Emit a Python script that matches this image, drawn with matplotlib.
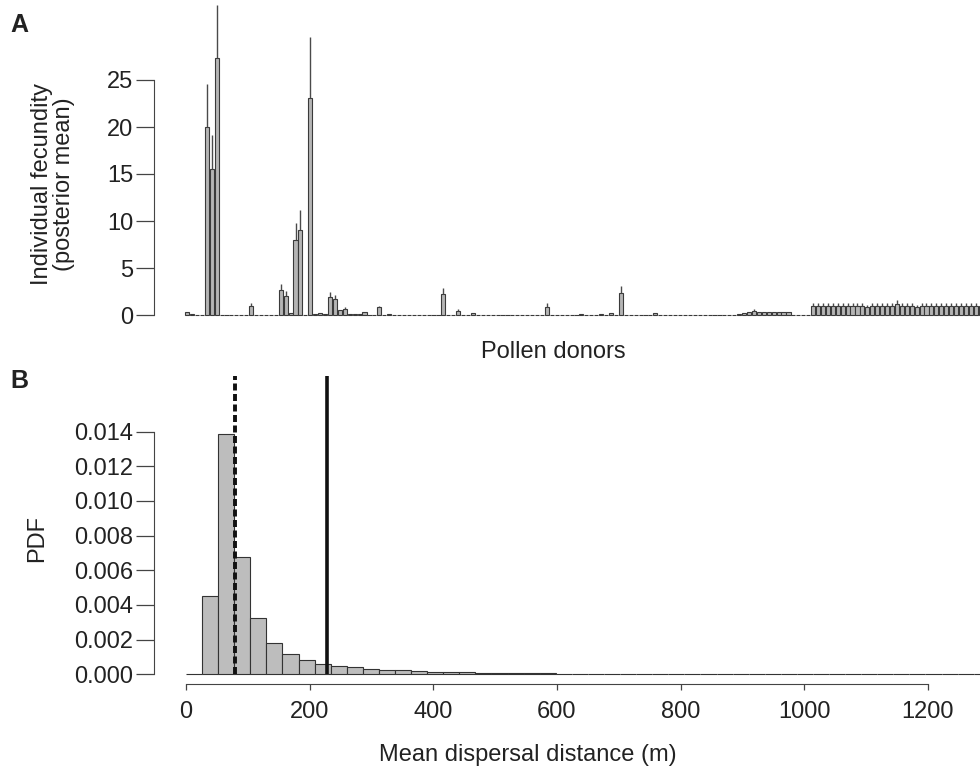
import numpy as np
import matplotlib
matplotlib.use("Agg")
import matplotlib.pyplot as plt

plt.rcParams['font.family'] = ['Liberation Sans', 'DejaVu Sans']

# Panel A: posterior mean fecundity per pollen donor (upper credible limit)
fecundity = [
    0.30, 0.15, 0.05, 0.05, 20.0, 15.5, 27.3, 0.05, 0.05, 0.05,
    0.05, 0.05, 0.05, 0.95, 0.05, 0.05, 0.05, 0.05, 0.05, 2.65,
    2.05, 0.20, 8.00, 9.05, 0.05, 23.05, 0.10, 0.25, 0.15, 1.90,
    1.70, 0.55, 0.65, 0.15, 0.10, 0.10, 0.35, 0.05, 0.05, 0.80,
    0.05, 0.10, 0.05, 0.05, 0.05, 0.05, 0.05, 0.05, 0.05, 0.05,
    0.05, 0.05, 2.25, 0.05, 0.05, 0.45, 0.05, 0.05, 0.18, 0.05,
    0.05, 0.05, 0.05, 0.05, 0.05, 0.05, 0.05, 0.05, 0.05, 0.05,
    0.05, 0.05, 0.05, 0.90, 0.05, 0.05, 0.05, 0.05, 0.05, 0.05,
    0.08, 0.05, 0.05, 0.05, 0.08, 0.05, 0.25, 0.05, 2.30, 0.05,
    0.05, 0.05, 0.05, 0.05, 0.05, 0.18, 0.05, 0.05, 0.05, 0.05,
    0.05, 0.05, 0.05, 0.05, 0.05, 0.05, 0.05, 0.05, 0.05, 0.05,
    0.05, 0.05, 0.10, 0.20, 0.30, 0.45, 0.30, 0.30, 0.30, 0.30,
    0.30, 0.30, 0.30, 0.05, 0.05, 0.05, 0.05, 1.00, 0.98, 1.00,
    1.00, 0.97, 1.00, 1.00, 0.98, 1.00, 1.00, 0.97, 0.80, 1.00,
    1.00, 0.98, 1.00, 1.00, 1.15, 1.00, 0.97, 1.00, 0.80, 1.00,
    1.00, 0.98, 1.00, 1.00, 0.97, 1.00, 1.00, 0.98, 1.00, 1.00,
    0.98, 1.00,
]
upper = [
    0.30, 0.15, 0.05, 0.05, 24.6, 19.1, 33.0, 0.05, 0.05, 0.05,
    0.05, 0.05, 0.05, 1.25, 0.05, 0.05, 0.05, 0.05, 0.05, 3.30,
    2.60, 0.20, 9.75, 11.2, 0.05, 29.6, 0.10, 0.25, 0.15, 2.50,
    2.15, 0.55, 0.90, 0.15, 0.10, 0.10, 0.35, 0.05, 0.05, 0.95,
    0.05, 0.10, 0.05, 0.05, 0.05, 0.05, 0.05, 0.05, 0.05, 0.05,
    0.05, 0.05, 2.85, 0.05, 0.05, 0.60, 0.05, 0.05, 0.18, 0.05,
    0.05, 0.05, 0.05, 0.05, 0.05, 0.05, 0.05, 0.05, 0.05, 0.05,
    0.05, 0.05, 0.05, 1.25, 0.05, 0.05, 0.05, 0.05, 0.05, 0.05,
    0.08, 0.05, 0.05, 0.05, 0.08, 0.05, 0.25, 0.05, 3.10, 0.05,
    0.05, 0.05, 0.05, 0.05, 0.05, 0.18, 0.05, 0.05, 0.05, 0.05,
    0.05, 0.05, 0.05, 0.05, 0.05, 0.05, 0.05, 0.05, 0.05, 0.05,
    0.05, 0.05, 0.10, 0.20, 0.30, 0.65, 0.30, 0.30, 0.30, 0.30,
    0.30, 0.30, 0.30, 0.05, 0.05, 0.05, 0.05, 1.30, 1.28, 1.30,
    1.30, 1.27, 1.30, 1.30, 1.28, 1.30, 1.30, 1.27, 1.10, 1.30,
    1.30, 1.28, 1.30, 1.30, 1.60, 1.30, 1.27, 1.30, 1.10, 1.30,
    1.30, 1.28, 1.30, 1.30, 1.27, 1.30, 1.30, 1.28, 1.30, 1.30,
    1.28, 1.30,
]
fec_ticks = [0, 5, 10, 15, 20, 25]

# Panel B: histogram of mean dispersal distance (bins of 26 m from 0)
bin_width = 26
pdf = [
    0.0, 0.00453, 0.01386, 0.00675, 0.00322, 0.00183, 0.00116, 0.00081,
    0.00062, 0.00048, 0.00040, 0.00033, 0.00027, 0.00022, 0.00019, 0.00016,
    0.00013, 0.00011, 0.00009, 0.00008, 0.00007, 0.00006, 0.00005, 0.00004,
    0.00004, 0.00003, 0.00003, 0.00002, 0.00002, 0.00002, 0.00002, 0.00001,
    0.00001, 0.00001, 0.00001, 0.00001, 0.00001, 0.00001, 0.00001, 0.0,
    0.0, 0.0, 0.0, 0.0, 0.0, 0.0, 0.0, 0.0, 0.0, 0.0, 0.0,
]
dist_median = 80
dist_mean = 228
pdf_ticks = [0.000, 0.002, 0.004, 0.006, 0.008, 0.010, 0.012, 0.014]
dist_ticks = [0, 200, 400, 600, 800, 1000, 1200]

W, H = 980, 769
fig = plt.figure(figsize=(W / 100, H / 100), dpi=100)
txt = '#222222'

def px_axes(x0, y0, x1, y1):
    return fig.add_axes([x0 / W, 1 - y1 / H, (x1 - x0) / W, (y1 - y0) / H])

# ---- Panel A
axA = px_axes(154, 0, 980, 330)
n = len(fecundity)
xpos = 0.7 + 1.2 * np.arange(n)
axA.bar(xpos, fecundity, width=1.0, color='#b5b5b5', edgecolor='#3a3a3a', linewidth=0.8)
mean_arr = np.array(fecundity)
up_arr = np.array(upper)
has_err = up_arr > mean_arr
axA.vlines(xpos[has_err], mean_arr[has_err], up_arr[has_err], color='#4a4a4a', linewidth=1.0)
axA.set_xlim(0.2 - 31 / 4.108, 0.2 + (980 - 185) / 4.108)
axA.set_ylim((315 - 330) / 9.4, 315 / 9.4)
axA.set_yticks(fec_ticks)
axA.set_xticks([])
for s in ['top', 'right', 'bottom']:
    axA.spines[s].set_visible(False)
axA.spines['left'].set_bounds(0, 25)
axA.spines['left'].set_color('#444444')
axA.tick_params(axis='y', length=13, width=0.9, color='#444444', pad=2,
                labelsize=17, labelcolor=txt)
axA.set_facecolor('none')

# ---- Panel B
axB = px_axes(154, 376, 980, 684)
edges = bin_width * np.arange(len(pdf))
axB.bar(edges, pdf, width=bin_width, align='edge', color='#bdbdbd',
        edgecolor='#333333', linewidth=0.8)
top_val = (674.3 - 376) / 17330
axB.vlines(dist_median, 0, top_val, color='#111111', linewidth=2.8,
           linestyles=(0, (1.8, 0.9)))
axB.vlines(dist_mean, 0, top_val, color='#111111', linewidth=2.6)
axB.set_xlim(-(186 - 154) / 0.6183, (980 - 186) / 0.6183)
axB.set_ylim((674.3 - 684) / 17330, top_val)
axB.set_yticks(pdf_ticks)
axB.set_yticklabels([f'{v:.3f}' for v in pdf_ticks])
axB.set_xticks(dist_ticks)
for s in ['top', 'right']:
    axB.spines[s].set_visible(False)
axB.spines['left'].set_bounds(0, 0.014)
axB.spines['bottom'].set_bounds(0, 1200)
axB.spines['left'].set_color('#444444')
axB.spines['bottom'].set_color('#444444')
axB.tick_params(axis='y', length=13, width=0.9, color='#444444', pad=2,
                labelsize=17, labelcolor=txt)
axB.tick_params(axis='x', length=4.5, width=0.9, color='#444444', pad=8,
                labelsize=17, labelcolor=txt)
axB.set_facecolor('none')

# ---- Labels
fig.text(19 / W, 1 - 25 / H, 'A', fontsize=18, fontweight='bold', color=txt,
         ha='center', va='center')
fig.text(19 / W, 1 - 381 / H, 'B', fontsize=18, fontweight='bold', color=txt,
         ha='center', va='center')
fig.text(53 / W, 1 - 184 / H, 'Individual fecundity\n(posterior mean)', fontsize=17,
         color=txt, rotation=90, ha='center', va='center', linespacing=1.05)
fig.text(37 / W, 1 - 538 / H, 'PDF', fontsize=17, color=txt, rotation=90,
         ha='center', va='center')
fig.text(553 / W, 1 - 352 / H, 'Pollen donors', fontsize=17, color=txt,
         ha='center', va='center')
fig.text(528 / W, 1 - 755 / H, 'Mean dispersal distance (m)', fontsize=17, color=txt,
         ha='center', va='center')

fig.savefig('out.png', dpi=100)
